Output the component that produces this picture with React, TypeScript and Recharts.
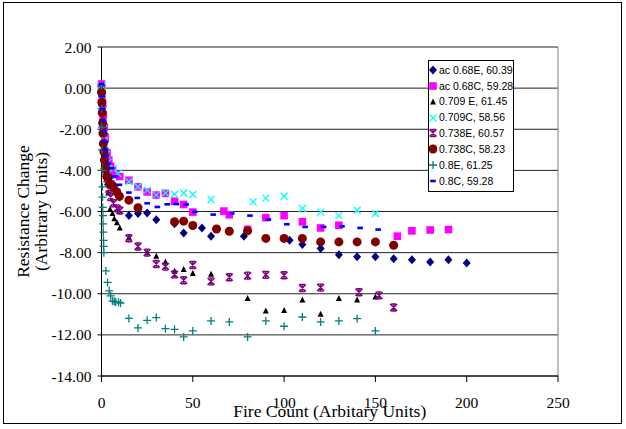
import {
    ScatterChart, Scatter, XAxis, YAxis, CartesianGrid, Legend, ReferenceLine,
} from "recharts";

const SERIF = "'Liberation Serif', 'Times New Roman', serif";
const SANS = "'Liberation Sans', Arial, sans-serif";

const X_TICKS = [0, 50, 100, 150, 200, 250];
const Y_TICKS = [-14, -12, -10, -8, -6, -4, -2, 0, 2];

// ac 0.68E, 60.39
const x1 = [0, 0.3, 0.6, 1, 1.3, 1.6, 2, 2.5, 3, 4, 5, 6.6, 8, 10, 15, 20, 25, 30, 40, 45, 55, 60, 78, 103, 110, 120, 130, 140, 150, 160, 170, 180, 190, 200];
const y1 = [0.1, -0.4, -0.9, -1.4, -1.8, -2.2, -2.6, -3.0, -3.4, -3.9, -4.3, -4.7, -5.0, -5.3, -6.2, -6.1, -6.07, -6.4, -6.6, -7.05, -6.8, -7.2, -7.2, -7.4, -7.6, -7.8, -8.1, -8.2, -8.2, -8.3, -8.35, -8.45, -8.35, -8.5];
// ac 0.68C, 59.28
const x2 = [0, 0.3, 0.6, 1, 1.5, 2, 3, 4, 5, 6, 8, 10, 15, 20, 25, 30, 35, 40, 45, 50, 67, 70, 80, 90, 100, 110, 120, 130, 162, 170, 180, 190];
const y2 = [0.2, -0.3, -0.8, -1.3, -1.9, -2.4, -3.15, -3.5, -3.8, -4.0, -4.2, -4.3, -4.48, -4.8, -5.05, -5.2, -5.12, -5.5, -5.66, -6.03, -5.98, -6.16, -6.87, -6.3, -6.2, -6.5, -6.8, -6.67, -7.2, -6.94, -6.9, -6.88];
// 0.709 E, 61.45
const x3 = [0, 0.3, 0.6, 1, 1.5, 2, 2.5, 3, 3.7, 4.7, 6, 7, 8.5, 10, 15, 25, 30, 35, 40, 45, 50, 60, 80, 90, 100, 110, 120, 130, 140, 150];
const y3 = [0, -0.6, -1.2, -1.9, -2.6, -3.3, -4.0, -4.6, -5.1, -5.9, -6.1, -6.35, -6.55, -6.8, -7.27, -8.0, -8.18, -8.45, -8.9, -8.82, -9.02, -9.05, -10.23, -10.84, -10.82, -10.3, -11.0, -10.23, -10.3, -10.16];
// 0.709C, 58.56
const x4 = [0, 0.3, 0.6, 1, 1.5, 2, 2.5, 3.5, 6.5, 9, 15, 20, 25, 30, 35, 40, 45, 50, 60, 83, 90, 100, 110, 120, 130, 140, 150];
const y4 = [0.1, -0.5, -1.1, -1.7, -2.3, -2.8, -3.2, -3.6, -3.9, -4.15, -4.55, -4.8, -4.96, -5.19, -5.1, -5.16, -5.1, -5.17, -5.42, -5.53, -5.35, -5.26, -5.85, -6.03, -6.2, -5.94, -6.1];
// 0.738E, 60.57
const x5 = [0, 0.3, 0.6, 1, 1.5, 2, 2.5, 3, 4, 5, 6.5, 8.5, 10, 15, 20, 25, 30, 35, 40, 45, 50, 60, 70, 80, 90, 100, 110, 120, 141, 152, 160];
const y5 = [0, -0.7, -1.4, -2.1, -2.8, -3.4, -3.9, -4.4, -4.9, -5.3, -5.6, -5.85, -5.95, -7.3, -7.7, -8.0, -8.55, -8.68, -9.06, -9.34, -8.6, -9.4, -9.2, -9.12, -9.08, -9.1, -9.72, -9.7, -9.93, -10.08, -10.67];
// 0.738C, 58.23
const x6 = [0, 0.2, 0.4, 0.6, 0.8, 1, 1.3, 1.6, 2, 2.9, 4.7, 6.5, 8.4, 9.8, 15, 20, 40, 45, 50, 63, 70, 80, 90, 100, 110, 120, 130, 140, 150, 160];
const y6 = [-0.2, -0.7, -1.2, -1.7, -2.2, -2.7, -3.1, -3.5, -3.9, -4.3, -4.64, -4.8, -5.05, -5.26, -5.45, -5.82, -6.5, -6.47, -6.68, -6.85, -6.96, -6.94, -7.31, -7.31, -7.31, -7.48, -7.48, -7.48, -7.48, -7.64];
// 0.8E, 61.25
const x7 = [0, 0.1, 0.2, 0.3, 0.4, 0.5, 0.6, 0.7, 0.8, 0.9, 1, 1.1, 1.2, 1.3, 2.4, 3.3, 4.2, 5, 6, 7, 7.8, 9.3, 10.4, 15, 20, 25, 30, 35, 40, 45, 50, 60, 70, 80, 90, 100, 110, 120, 130, 140, 150];
const y7 = [0.1, -1.0, -1.9, -3.0, -4.0, -4.8, -5.3, -5.8, -6.2, -6.6, -7.0, -7.4, -7.7, -8.0, -8.89, -9.45, -9.86, -10.1, -10.35, -10.38, -10.4, -10.41, -10.45, -11.2, -11.66, -11.29, -11.16, -11.7, -11.73, -12.1, -11.81, -11.32, -11.37, -12.1, -11.32, -11.58, -11.13, -11.37, -11.32, -11.21, -11.81];
// 0.8C, 59.28
const x8 = [0, 0.3, 0.6, 1, 1.3, 1.6, 2, 2.5, 3.7, 5.6, 7.4, 9.8, 15, 19.6, 25, 30.6, 36, 41, 46.3, 51, 61.2, 71.3, 81.3, 91.4, 101.5, 111.5, 121.6, 131.7, 141.6, 151.5];
const y8 = [0.2, -0.4, -1.0, -1.6, -2.1, -2.6, -3.0, -3.3, -3.67, -3.9, -4.3, -4.7, -5.08, -5.34, -5.6, -5.78, -5.65, -5.64, -5.66, -6.02, -6.15, -6.1, -6.2, -6.39, -6.62, -6.75, -6.75, -6.72, -6.8, -6.88];

type Kind = "diamond" | "square" | "triangle" | "x" | "star" | "circle" | "plus" | "dash";

const SERIES: { name: string; kind: Kind; color: string; xs: number[]; ys: number[] }[] = [
    { name: "ac 0.68E, 60.39", kind: "diamond", color: "#000080", xs: x1, ys: y1 },
    { name: "ac 0.68C, 59.28", kind: "square", color: "#ff00ff", xs: x2, ys: y2 },
    { name: "0.709 E, 61.45", kind: "triangle", color: "#000000", xs: x3, ys: y3 },
    { name: "0.709C, 58.56", kind: "x", color: "#00ffff", xs: x4, ys: y4 },
    { name: "0.738E, 60.57", kind: "star", color: "#800080", xs: x5, ys: y5 },
    { name: "0.738C, 58.23", kind: "circle", color: "#800000", xs: x6, ys: y6 },
    { name: "0.8E, 61.25", kind: "plus", color: "#008080", xs: x7, ys: y7 },
    { name: "0.8C, 59.28", kind: "dash", color: "#0000ff", xs: x8, ys: y8 },
];

function marker(kind: Kind, color: string, cx: number, cy: number) {
    switch (kind) {
        case "diamond":
            return <polygon points={`${cx},${cy - 4.5} ${cx + 4},${cy} ${cx},${cy + 4.5} ${cx - 4},${cy}`} fill={color} />;
        case "square":
            return <rect x={cx - 3.8} y={cy - 3.8} width={7.6} height={7.6} fill={color} />;
        case "triangle":
            return <polygon points={`${cx},${cy - 3.5} ${cx + 3},${cy + 2.5} ${cx - 3},${cy + 2.5}`} fill={color} />;
        case "x":
            return (
                <path d={`M${cx - 3.5},${cy - 3.5}L${cx + 3.5},${cy + 3.5}M${cx + 3.5},${cy - 3.5}L${cx - 3.5},${cy + 3.5}`}
                    stroke={color} strokeWidth={1.3} fill="none" />
            );
        case "star":
            return (
                <path d={`M${cx - 3.5},${cy - 3.5}L${cx + 3.5},${cy + 3.5}M${cx + 3.5},${cy - 3.5}L${cx - 3.5},${cy + 3.5}M${cx},${cy - 3.5}L${cx},${cy + 3.5}M${cx - 2.5},${cy - 3.5}L${cx + 2.5},${cy - 3.5}M${cx - 2.5},${cy + 3.5}L${cx + 2.5},${cy + 3.5}`}
                    stroke={color} strokeWidth={1.4} fill="none" />
            );
        case "circle":
            return <circle cx={cx} cy={cy} r={4.5} fill={color} />;
        case "plus":
            return (
                <path d={`M${cx - 4},${cy}L${cx + 4},${cy}M${cx},${cy - 4}L${cx},${cy + 4}`}
                    stroke={color} strokeWidth={1.3} fill="none" />
            );
        case "dash":
        default:
            return <rect x={cx - 2.8} y={cy - 1.3} width={5.6} height={2.6} fill={color} />;
    }
}

const renderLegend = () => (
    <div style={{
        border: "1px solid #000", background: "#fff", width: 84, paddingTop: 1, paddingBottom: 2,
        fontFamily: SANS, fontSize: 10.5, color: "#000", lineHeight: 1,
    }}>
        {SERIES.map((s) => (
            <div key={s.name} style={{ display: "flex", alignItems: "center", height: 15.86 }}>
                <svg width={8} height={10} style={{ marginLeft: 0, marginRight: 2, flex: "none" }}>
                    {marker(s.kind, s.color, 4, 5)}
                </svg>
                <span style={{ whiteSpace: "nowrap" }}>{s.name}</span>
            </div>
        ))}
    </div>
);

const YTitle = (props: any) => {
    const vb = props.viewBox || { x: 41.5, y: 47, width: 60, height: 329 };
    const cy = vb.y + vb.height / 2;
    const xa = vb.x - 18.5;
    const xb = vb.x - 0.5;
    const style = { fontFamily: SERIF, fontSize: 17.5, fill: "#000" };
    return (
        <g>
            <text x={xa} y={cy} transform={`rotate(-90 ${xa} ${cy})`} textAnchor="middle" dominantBaseline="central" style={style}>
                Resistance Change
            </text>
            <text x={xb} y={cy} transform={`rotate(-90 ${xb} ${cy})`} textAnchor="middle" dominantBaseline="central" style={style}>
                (Arbitrary Units)
            </text>
        </g>
    );
};

export default function App() {
    return (
        <div style={{ position: "absolute", left: 0, top: 0, width: 626, height: 429, background: "#fff" }}>
            <ScatterChart width={626} height={429} margin={{ top: 47, right: 68, bottom: 23, left: 41.5 }}>
                <CartesianGrid vertical={false} stroke="#222" />
                <XAxis
                    type="number"
                    dataKey="x"
                    domain={[0, 250]}
                    ticks={X_TICKS}
                    height={30}
                    stroke="#000"
                    tickSize={6}
                    tickMargin={15}
                    tick={{ fill: "#000", fontSize: 15.5, fontFamily: SERIF }}
                    label={{
                        value: "Fire Count (Arbitary Units)", position: "insideBottom", offset: -11,
                        style: { fontFamily: SERIF, fontSize: 17.5, fill: "#000" },
                    }}
                />
                <YAxis
                    type="number"
                    dataKey="y"
                    domain={[-14, 2]}
                    ticks={Y_TICKS}
                    width={60}
                    stroke="#000"
                    tickSize={4}
                    tickMargin={6}
                    tickFormatter={(v: number) => v.toFixed(2)}
                    tick={{ fill: "#000", fontSize: 15.5, fontFamily: SERIF }}
                    label={{ content: YTitle }}
                />
                <ReferenceLine x={250} stroke="#808080" />
                {SERIES.map((s) => (
                    <Scatter
                        key={s.name}
                        name={s.name}
                        data={s.xs.map((x, i) => ({ x, y: s.ys[i] }))}
                        isAnimationActive={false}
                        shape={(p: any) => marker(s.kind, s.color, p.cx, p.cy)}
                    />
                ))}
                <Legend
                    content={renderLegend}
                    layout="vertical"
                    align="center"
                    verticalAlign="middle"
                    wrapperStyle={{ left: 428, top: 60, width: 86 }}
                />
            </ScatterChart>
            <div style={{
                position: "absolute", left: 3, top: 2, width: 617, height: 420,
                border: "1px solid #000", pointerEvents: "none",
            }} />
        </div>
    );
}
